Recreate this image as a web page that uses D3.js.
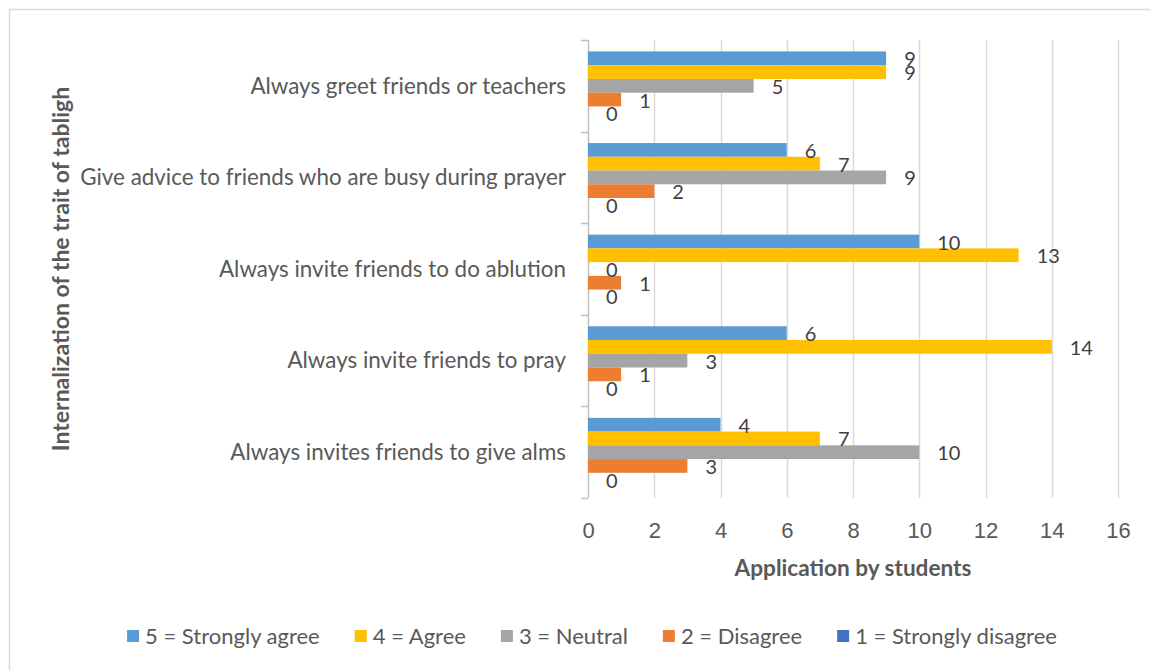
<!DOCTYPE html>
<html>
<head>
<meta charset="utf-8">
<script src="https://cdn.jsdelivr.net/npm/d3@7"></script>
<style>
  body { margin: 0; background: #fff; }
  svg { display: block; font-family: Lato, "Liberation Sans", sans-serif; }
</style>
</head>
<body>
<main></main>
<script>

// Data
const categorias = [
    'Always greet friends or teachers',
    'Give advice to friends who are busy during prayer',
    'Always invite friends to do ablution',
    'Always invite friends to pray',
    'Always invites friends to give alms'
];

const series = ['5 = Strongly agree', '4 = Agree', '3 = Neutral', '2 = Disagree', '1 = Strongly disagree'];
const colores = ['#5B9BD5', '#FFC000', '#A5A5A5', '#ED7D31', '#4472C4'];

const valores5 = [9, 6, 10, 6, 4];
const valores4 = [9, 7, 13, 14, 7];
const valores3 = [5, 9, 0, 3, 10];
const valores2 = [1, 2, 1, 1, 3];
const valores1 = [0, 0, 0, 0, 0];

const ticksX = [0, 2, 4, 6, 8, 10, 12, 14, 16];

const tituloX = 'Application by students';
const tituloY = 'Internalization of the trait of tabligh';

const todos = [valores5, valores4, valores3, valores2, valores1];

// Rows for drawing: one per bar
const filas = [];
categorias.forEach((c, i) => {
    series.forEach((s, j) => {
        filas.push({ cat: c, serie: s, valor: todos[j][i], color: colores[j] });
    });
});

const [w, h] = [1150, 670];
const area = { left: 588, right: 1118, top: 40, bottom: 498 };
const gris = '#595959';

const svg = d3.select('main')
    .append('svg')
    .attr('width', w)
    .attr('height', h);

// Chart border (runs off the right and bottom edge)
svg.append('rect')
    .attr('x', 9.5)
    .attr('y', 9.5)
    .attr('width', 1160)
    .attr('height', 680)
    .attr('fill', '#fff')
    .attr('stroke', '#D9D9D9')
    .attr('stroke-width', 1.5);

// Scales
const xScale = d3.scaleLinear()
    .domain([0, 16])
    .range([area.left, area.right]);

const yScale = d3.scaleBand()
    .domain(categorias)
    .range([area.top, area.bottom])
    .paddingInner(0.25)
    .paddingOuter(0.125);

const ySerie = d3.scaleBand()
    .domain(series)
    .range([0, yScale.bandwidth()]);

// Gridlines
svg.append('g')
    .selectAll('line')
    .data(ticksX.slice(1))
    .enter()
    .append('line')
    .attr('x1', d => Math.round(xScale(d)) + 0.5)
    .attr('x2', d => Math.round(xScale(d)) + 0.5)
    .attr('y1', area.top)
    .attr('y2', area.bottom)
    .attr('stroke', '#D9D9D9')
    .attr('stroke-width', 1.5);

// X axis (labels only, no line)
const ejeX = d3.axisBottom(xScale)
    .tickValues(ticksX)
    .tickSize(0)
    .tickPadding(0)
    .tickFormat(d3.format('d'));

const gX = svg.append('g')
    .attr('transform', 'translate(0,' + (area.bottom + 25) + ')')
    .call(ejeX);

gX.select('.domain').remove();
gX.selectAll('text')
    .attr('font-size', 22)
    .attr('font-family', null)
    .attr('fill', gris)
    .attr('dy', '0.35em')
    .attr('y', 7);

// Y axis: line plus ticks at band edges
const paso = yScale.step();
const bordes = categorias.map(c => yScale(c) - yScale.paddingInner() * paso / 2);
bordes.push(area.bottom);

svg.append('line')
    .attr('x1', area.left + 0.5)
    .attr('x2', area.left + 0.5)
    .attr('y1', area.top)
    .attr('y2', area.bottom)
    .attr('stroke', '#BFBFBF')
    .attr('stroke-width', 1.5);

svg.append('g')
    .selectAll('line')
    .data(bordes)
    .enter()
    .append('line')
    .attr('x1', area.left - 7)
    .attr('x2', area.left)
    .attr('y1', d => Math.round(d) + 0.5)
    .attr('y2', d => Math.round(d) + 0.5)
    .attr('stroke', '#BFBFBF')
    .attr('stroke-width', 1.5);

// Category labels
svg.append('g')
    .selectAll('text')
    .data(categorias)
    .enter()
    .append('text')
    .attr('x', area.left - 22)
    .attr('y', d => yScale(d) + yScale.bandwidth() / 2)
    .attr('dy', '0.35em')
    .attr('text-anchor', 'end')
    .attr('font-size', 22.4)
    .attr('fill', gris)
    .text(d => d);

// Bars
svg.append('g')
    .selectAll('rect')
    .data(filas)
    .enter()
    .append('rect')
    .attr('x', xScale(0))
    .attr('y', d => yScale(d.cat) + ySerie(d.serie))
    .attr('width', d => xScale(d.valor) - xScale(0))
    .attr('height', ySerie.bandwidth())
    .attr('fill', d => d.color);

// Value labels
svg.append('g')
    .selectAll('text')
    .data(filas)
    .enter()
    .append('text')
    .attr('x', d => xScale(d.valor) + 18)
    .attr('y', d => yScale(d.cat) + ySerie(d.serie) + ySerie.bandwidth() / 2 + 1)
    .attr('dy', '0.35em')
    .attr('font-size', 20)
    .attr('fill', '#404040')
    .text(d => d.valor);

// Axis titles
svg.append('text')
    .attr('x', (area.left + area.right) / 2)
    .attr('y', 568)
    .attr('dy', '0.35em')
    .attr('text-anchor', 'middle')
    .attr('font-size', 22.6)
    .attr('font-weight', 'bold')
    .attr('fill', gris)
    .text(tituloX);

svg.append('text')
    .attr('transform', 'translate(61,' + 269 + ') rotate(-90)')
    .attr('dy', '0.35em')
    .attr('text-anchor', 'middle')
    .attr('font-size', 23)
    .attr('font-weight', 'bold')
    .attr('fill', gris)
    .text(tituloY);

// Legend, centered
const leyenda = svg.append('g');
const cuadro = 12;
let xPos = 0;

series.forEach((s, i) => {
    const g = leyenda.append('g');
    g.append('rect')
        .attr('x', 0)
        .attr('y', -cuadro / 2)
        .attr('width', cuadro)
        .attr('height', cuadro)
        .attr('fill', colores[i]);
    const t = g.append('text')
        .attr('x', cuadro + 6)
        .attr('dy', '0.35em')
        .attr('font-size', 22)
        .attr('fill', gris)
        .text(s);
    g.attr('transform', 'translate(' + xPos + ',0)');
    xPos += cuadro + 6 + t.node().getComputedTextLength() + 35;
});

const anchoLeyenda = xPos - 35;
leyenda.attr('transform', 'translate(' + (592 - anchoLeyenda / 2) + ',636)');

</script>
</body>
</html>
